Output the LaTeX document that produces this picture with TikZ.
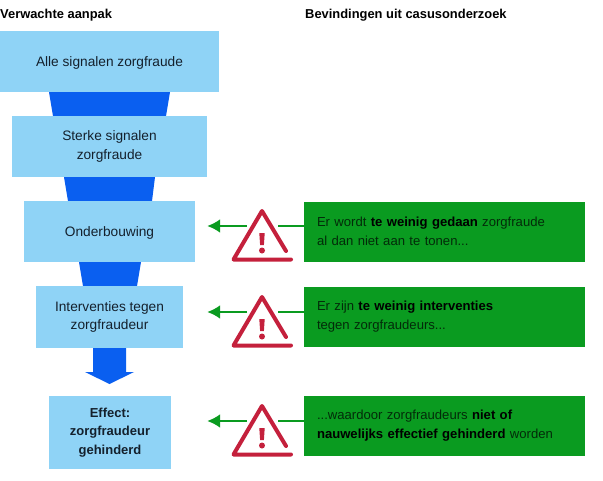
\documentclass[tikz,border=0pt]{standalone}
\usepackage{fontspec}
\setmainfont{Liberation Sans}
\usetikzlibrary{arrows.meta}
\definecolor{lichtblauw}{HTML}{8FD3F6}
\definecolor{trechterblauw}{HTML}{0A5FF0}
\definecolor{groen}{HTML}{0A9B20}
\definecolor{gevaarrood}{HTML}{C4203C}
\definecolor{inkt}{HTML}{14202C}
\newcommand{\nadruk}[1]{\textcolor{black}{\textbf{#1}}}
\tikzset{
	stap/.style={fill=lichtblauw, text=inkt, align=center, inner sep=0pt, font=\fontsize{13.7}{18.5}\selectfont},
	bevinding/.style={fill=groen, text=black!72!groen, align=left, inner sep=0pt, minimum width=281, text width=255, minimum height=60, font=\fontsize{13.1}{19}\selectfont},
	kop/.style={anchor=west, inner sep=0pt, text=black, font=\fontsize{12.9}{15}\selectfont\bfseries},
	trechter/.style={fill=trechterblauw},
	pijl/.style={draw=groen, line width=2.2, -{Latex[length=13,width=14]}},
	lijn/.style={draw=groen, line width=2.2},
	gevaar/.pic={
		\draw[gevaarrood, line width=4, line cap=round, line join=round] (24,16) -- (0,-24) -- (-28.5,24.5) -- (29,24.5);
		\fill[gevaarrood] (-2.7,-2) -- (2.7,-2) -- (1.9,10) -- (-1.9,10) -- cycle;
		\fill[gevaarrood] (0,15.5) circle (3);
		\coordinate (-links) at (-15,-9);
		\coordinate (-rechts) at (16,-9);
	}
}
\begin{document}
\begin{tikzpicture}[x=1pt, y=-1pt]
		\useasboundingbox (0,0) rectangle (603,480);

		\fill[trechter] (49,92) -- (170,92) -- (166,116) -- (53,116) -- cycle;
		\fill[trechter] (64,177) -- (155,177) -- (152,201) -- (68,201) -- cycle;
		\fill[trechter] (79,262) -- (141,262) -- (137,286) -- (83,286) -- cycle;
		\fill[trechter] (93,348) -- (126,348) -- (126,372) -- (134,372) -- (109.5,384) -- (85,372) -- (93,372) -- cycle;

		\node (titelA)[kop] at (0,15)   {Verwachte aanpak};
		\node (titelB)[kop] at (305,15)   {Bevindingen uit casusonderzoek};

		\node (alle)[stap, minimum width=219, minimum height=61, text height=13] at (109.5,61.5)   {Alle signalen zorgfraude};
		\node (sterk)[stap, minimum width=195, minimum height=61] at (109.5,146.5)   {Sterke signalen\\zorgfraude};
		\node (onder)[stap, minimum width=171, minimum height=61, text height=12] at (109.5,231.5)   {Onderbouwing};
		\node (interv)[stap, minimum width=147, minimum height=62] at (109.5,317)   {Interventies tegen\\zorgfraudeur};
		\node (effect)[stap, minimum width=122, minimum height=73, font=\fontsize{13}{18.5}\selectfont\bfseries] at (110,432.5)   {Effect:\\zorgfraudeur\\gehinderd};

		\node (bevA)[bevinding] at (444.5,231.5)   {Er wordt \nadruk{te weinig gedaan} zorgfraude\\al dan niet aan te tonen...};
		\node (bevB)[bevinding] at (444.5,317)   {Er zijn \nadruk{te weinig interventies}\\tegen zorgfraudeurs...};
		\node (bevC)[bevinding] at (444.5,426)   {...waardoor zorgfraudeurs \nadruk{niet of}\\\nadruk{nauwelijks effectief gehinderd} worden};

		\pic (gevA) at (262,235) {gevaar};
		\pic (gevB) at (262,321) {gevaar};
		\pic (gevC) at (262,430) {gevaar};

		\draw[lijn] (gevA-rechts) -- (gevA-rechts -| bevA.west);
		\draw[lijn] (gevB-rechts) -- (gevB-rechts -| bevB.west);
		\draw[lijn] (gevC-rechts) -- (gevC-rechts -| bevC.west);

		\draw[pijl, shorten >=12] (gevA-links) -- (gevA-links -| onder.east);
		\draw[pijl, shorten >=24] (gevB-links) -- (gevB-links -| interv.east);
		\draw[pijl, shorten >=36] (gevC-links) -- (gevC-links -| effect.east);
	\end{tikzpicture}
\end{document}
